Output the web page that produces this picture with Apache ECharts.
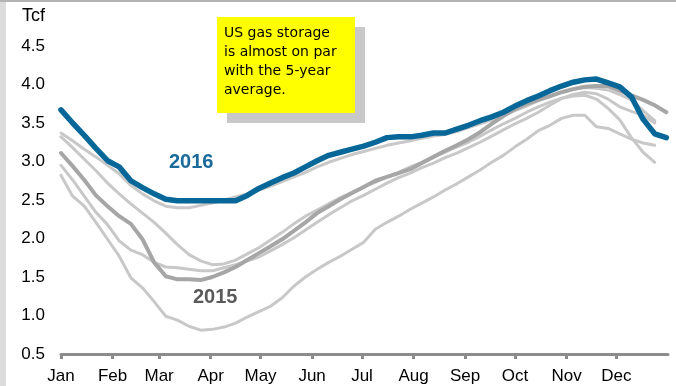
<!DOCTYPE html>
<html>
<head>
<meta charset="utf-8">
<script src="https://cdn.jsdelivr.net/npm/echarts@6/dist/echarts.min.js"></script>
<style>
  html, body { margin: 0; padding: 0; background: #fff; }
  #chart { width: 676px; height: 386px; }
</style>
</head>
<body>
<div id="chart"></div>
<script>
// Weekly US working gas in storage, Tcf (one value per week from the start of January)
const monthNames = ['Jan', 'Feb', 'Mar', 'Apr', 'May', 'Jun', 'Jul', 'Aug', 'Sep', 'Oct', 'Nov', 'Dec'];
const monthStartDays = [0, 31, 59, 90, 120, 151, 181, 212, 243, 273, 304, 334];
const daysPerWeek = 7;

const storage2016 = [3.67, 3.50, 3.34, 3.17, 3.01, 2.93, 2.75, 2.66, 2.58, 2.51,
  2.49, 2.49, 2.49, 2.49, 2.49, 2.49, 2.56, 2.65, 2.72, 2.79,
  2.85, 2.93, 3.01, 3.08, 3.12, 3.16, 3.20, 3.25, 3.31, 3.32,
  3.32, 3.34, 3.37, 3.37, 3.42, 3.47, 3.53, 3.58, 3.64, 3.72,
  3.79, 3.85, 3.92, 3.98, 4.03, 4.06, 4.07, 4.02, 3.97, 3.84,
  3.55, 3.36, 3.31];

const storage2015 = [3.11, 2.94, 2.76, 2.56, 2.42, 2.29, 2.19, 1.99, 1.69, 1.51,
  1.47, 1.47, 1.46, 1.50, 1.56, 1.63, 1.72, 1.81, 1.90, 1.99,
  2.10, 2.21, 2.33, 2.42, 2.51, 2.59, 2.67, 2.75, 2.80, 2.85,
  2.90, 2.98, 3.06, 3.14, 3.21, 3.29, 3.38, 3.49, 3.59, 3.68,
  3.75, 3.80, 3.85, 3.90, 3.94, 3.97, 3.98, 3.98, 3.92, 3.86,
  3.80, 3.73, 3.64];

const storage2014 = [2.82, 2.55, 2.42, 2.21, 1.99, 1.77, 1.49, 1.36, 1.18, 0.99,
  0.94, 0.86, 0.81, 0.82, 0.85, 0.90, 0.98, 1.05, 1.12, 1.23,
  1.38, 1.50, 1.60, 1.69, 1.77, 1.86, 1.95, 2.12, 2.21, 2.29,
  2.38, 2.46, 2.54, 2.63, 2.71, 2.80, 2.89, 2.99, 3.08, 3.19,
  3.29, 3.40, 3.47, 3.56, 3.60, 3.60, 3.45, 3.43, 3.36, 3.29,
  3.24, 3.21];

const storage2013 = [3.32, 3.18, 3.03, 2.88, 2.72, 2.58, 2.45, 2.33, 2.21, 2.07,
  1.92, 1.79, 1.71, 1.66, 1.67, 1.72, 1.80, 1.88, 1.98, 2.08,
  2.19, 2.29, 2.37, 2.45, 2.53, 2.60, 2.67, 2.73, 2.80, 2.86,
  2.93, 2.99, 3.06, 3.12, 3.19, 3.25, 3.33, 3.41, 3.49, 3.56,
  3.64, 3.71, 3.77, 3.82, 3.85, 3.86, 3.81, 3.69, 3.54, 3.31,
  3.12, 2.99];

const storage2012 = [3.37, 3.27, 3.16, 3.06, 2.95, 2.84, 2.69, 2.58, 2.49, 2.42,
  2.40, 2.40, 2.43, 2.46, 2.50, 2.54, 2.58, 2.63, 2.68, 2.74,
  2.80, 2.86, 2.93, 2.99, 3.04, 3.09, 3.13, 3.17, 3.21, 3.24,
  3.27, 3.30, 3.33, 3.35, 3.39, 3.44, 3.49, 3.54, 3.60, 3.66,
  3.72, 3.79, 3.84, 3.90, 3.94, 3.96, 3.95, 3.93, 3.87, 3.80,
  3.66, 3.53];

const storage2011 = [2.95, 2.76, 2.55, 2.34, 2.18, 1.97, 1.85, 1.79, 1.69, 1.63,
  1.62, 1.60, 1.58, 1.58, 1.62, 1.66, 1.71, 1.76, 1.84, 1.92,
  2.01, 2.11, 2.21, 2.31, 2.40, 2.49, 2.56, 2.64, 2.72, 2.79,
  2.85, 2.92, 2.98, 3.05, 3.11, 3.18, 3.25, 3.33, 3.41, 3.49,
  3.56, 3.64, 3.73, 3.82, 3.87, 3.90, 3.88, 3.81, 3.71, 3.65,
  3.60, 3.50];

const yMin = 0.5, yMax = 4.5, yStep = 0.5;

function weekly(values) {
  return values.map((v, i) => [i * daysPerWeek, v]);
}

const FONT = '"Liberation Sans", Arial, sans-serif';
const LIGHT = '#c8c8c8';

function line(name, values, color, width, z) {
  return {
    name: name,
    type: 'line',
    data: weekly(values),
    symbol: 'none',
    smooth: false,
    z: z,
    lineStyle: { color: color, width: width, cap: 'round', join: 'round' },
    emphasis: { disabled: true },
    silent: true
  };
}

const chart = echarts.init(document.getElementById('chart'), null, { renderer: 'canvas' });

chart.setOption({
  animation: false,
  backgroundColor: '#ffffff',
  grid: { left: 61, right: 8, top: 46, bottom: 32, containLabel: false },
  xAxis: {
    type: 'value',
    min: 0,
    max: 365,
    axisLine: { show: true, lineStyle: { color: '#8c8c8c', width: 3 } },
    axisTick: {
      show: true,
      customValues: monthStartDays,
      length: 5,
      lineStyle: { color: '#8c8c8c', width: 3 }
    },
    axisLabel: {
      customValues: monthStartDays,
      formatter: function (v) {
        const idx = monthStartDays.indexOf(v);
        return idx >= 0 ? monthNames[idx] : '';
      },
      color: '#000',
      fontSize: 17,
      fontFamily: FONT,
      margin: 14
    },
    splitLine: { show: false }
  },
  yAxis: {
    type: 'value',
    min: yMin,
    max: yMax,
    interval: yStep,
    axisLine: { show: false },
    axisTick: { show: false },
    splitLine: { show: false },
    axisLabel: {
      formatter: v => v.toFixed(1),
      color: '#000',
      fontSize: 17,
      fontFamily: FONT,
      margin: 16
    }
  },
  series: [
    line('2011', storage2011, LIGHT, 3, 2),
    line('2012', storage2012, LIGHT, 3, 2),
    line('2013', storage2013, LIGHT, 3, 2),
    line('2014', storage2014, LIGHT, 3, 2),
    line('2015', storage2015, '#a6a6a6', 4, 3),
    line('2016', storage2016, '#066798', 5.5, 4)
  ],
  graphic: [
    // frame edges
    { type: 'rect', shape: { x: 0, y: 0, width: 6, height: 386 }, style: { fill: '#dcdcdc' }, silent: true },
    { type: 'rect', shape: { x: 0, y: 0, width: 676, height: 2 }, style: { fill: '#b4b4b4' }, silent: true },
    // unit label
    { type: 'text', left: 22, top: 7, style: { text: 'Tcf', fill: '#000', font: '18px ' + FONT }, silent: true },
    // series labels
    { type: 'text', left: 169, top: 152, style: { text: '2016', fill: '#1a6b9b', font: 'bold 20px ' + FONT }, silent: true },
    { type: 'text', left: 193, top: 287, style: { text: '2015', fill: '#5a5a5a', font: 'bold 20px ' + FONT }, silent: true },
    // note box with shadow
    { type: 'rect', shape: { x: 227, y: 27, width: 138, height: 96 }, style: { fill: '#c8c8c8' }, silent: true },
    { type: 'rect', shape: { x: 217, y: 17, width: 138, height: 96 }, style: { fill: '#ffff00' }, silent: true },
    {
      type: 'text', left: 224, top: 24,
      style: {
        text: 'US gas storage\nis almost on par\nwith the 5-year\naverage.',
        fill: '#000',
        font: '14px "Comic Sans MS", "DejaVu Sans", sans-serif',
        lineHeight: 19
      },
      silent: true
    }
  ]
});
</script>
</body>
</html>
